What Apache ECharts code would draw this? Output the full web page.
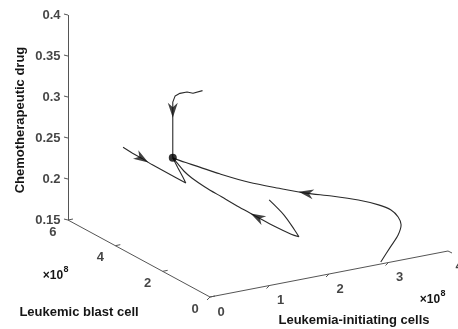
<!DOCTYPE html>
<html>
<head>
<meta charset="utf-8">
<script src="https://cdn.jsdelivr.net/npm/echarts@6/dist/echarts.min.js"></script>
<style>
html,body{margin:0;padding:0;background:#fff;}
#chartDiv{width:458px;height:329px;}
</style>
</head>
<body>
<div id="chartDiv"></div>
<script>
// points are [initiating cells (x1e8), blast cells (x1e8), drug]
var curveA = [[0.67,2,0.361],[0.51,2,0.360],[0.41,2,0.363],[0.29,2,0.363],[0.21,2,0.361],[0.17,2,0.354],[0.17,2,0.344],[0.17,2,0.32],[0.17,2,0.30],[0.17,2,0.286]];
var curveB = [[0.17,4.1,0.266],[0.17,3.7,0.265],[0.17,3.3,0.265],[0.17,2.9,0.264],[0.17,2.4,0.264],[0.17,1.9,0.264],[0.17,1.45,0.264],[0.17,1.57,0.269],[0.17,1.78,0.277],[0.17,1.9,0.282],[0.17,2.0,0.286]];
var curveC = [[1.79,2,0.212],[2.04,2,0.190],[2.22,2,0.169],[2.29,2,0.160],[2.16,2,0.165],[1.87,2,0.179],[1.59,2,0.194],[1.29,2,0.210],[0.99,2,0.227],[0.71,2,0.243],[0.49,2,0.257],[0.36,2,0.267],[0.26,2,0.277],[0.17,2,0.286]];
var curveD = [[2.87,0,0.1525],[3.15,0.3,0.162],[3.40,0.6,0.1685],[3.53,0.8,0.176],[3.56,1.0,0.182],[3.50,1.15,0.189],[3.35,1.3,0.195],[3.07,1.45,0.2025],[2.68,1.6,0.2105],[2.29,1.7,0.218],[1.88,1.8,0.228],[1.40,1.87,0.241],[0.93,1.93,0.257],[0.61,1.97,0.269],[0.37,1.99,0.278],[0.17,2.0,0.286]];
var equilibrium = [0.17,2.0,0.286];
// [curve number, point index] where an arrow head sits
var arrowAt = [[0,6],[1,2],[2,6],[3,9]];

var zTicks = [0.15,0.2,0.25,0.3,0.35,0.4];
var zTickLabels = ['0.15','0.2','0.25','0.3','0.35','0.4'];
var blastTicks = [0,2,4,6];
var initTicks = [0,1,2,3,4];

// view of the 3d box, flattened on the page
function project(p){
	return [59.5*p[0] - 23.67*p[1], 11.5*p[0] + 12.83*p[1] + 820*(p[2]-0.15)];
}

var curves = [curveA, curveB, curveC, curveD];
var txt = {fontFamily:'Liberation Sans, Arial, sans-serif', fontWeight:'bold', fontSize:13, color:'#151515'};
var font = 'bold 13px Liberation Sans';

var axisSegs = [];
axisSegs.push({coords:[project([0,6,0.15]), project([0,6,0.4])]});
axisSegs.push({coords:[project([0,6,0.15]), project([0,0,0.15])]});
axisSegs.push({coords:[project([0,0,0.15]), project([4,0,0.15])]});
zTicks.forEach(function(t){
	var a = project([0,6,t]);
	axisSegs.push({coords:[a,[a[0]-4,a[1]+1]]});
});
blastTicks.forEach(function(t){
	var a = project([0,t,0.15]);
	axisSegs.push({coords:[a,[a[0]+5,a[1]+1]]});
});
initTicks.forEach(function(t){
	var a = project([t,0,0.15]);
	var d = t == 4 ? [4,-2] : [-3,-3];
	axisSegs.push({coords:[a,[a[0]+d[0],a[1]+d[1]]]});
});

var series = [{
	type:'lines',
	coordinateSystem:'cartesian2d',
	data:axisSegs,
	silent:true,
	lineStyle:{color:'#555', width:1, opacity:1}
}];

curves.forEach(function(c, i){
	series.push({
		type:'line',
		data:c.map(project),
		showSymbol:false,
		smooth: i >= 2 ? 0.3 : false,
		lineStyle:{color:'#2a2a2a', width:1.1},
		z:3
	});
});

var arrows = arrowAt.map(function(a){
	var c = curves[a[0]];
	var p = project(c[a[1]]), q = project(c[a[1]+1]);
	var ang = Math.atan2(q[1]-p[1], q[0]-p[0]) * 180 / Math.PI;
	return {value:p, symbolRotate: ang - 90};
});
series.push({
	type:'scatter',
	data:arrows,
	symbol:'path://M0,0 L6,17 L0,12 L-6,17 Z',
	symbolSize:[10,15],
	itemStyle:{color:'#111'},
	z:4
});
series.push({
	type:'scatter',
	data:[project(equilibrium)],
	symbol:'circle',
	symbolSize:8,
	itemStyle:{color:'#000'},
	z:5
});

var tickLabelData = [];
zTicks.forEach(function(t, i){
	tickLabelData.push({value:project([0,6,t]), label:{position:'left', distance:7, formatter:zTickLabels[i]}});
});
blastTicks.forEach(function(t){
	tickLabelData.push({value:project([0,t,0.15]), label:{position:'inside', offset:[-15,12], formatter:String(t)}});
});
initTicks.forEach(function(t){
	tickLabelData.push({value:project([t,0,0.15]), label:{position:'inside', offset:[11,15], formatter:String(t)}});
});
series.push({
	type:'scatter',
	data:tickLabelData,
	symbolSize:1,
	itemStyle:{color:'rgba(0,0,0,0)'},
	silent:true,
	label:Object.assign({show:true}, txt)
});

var chart = echarts.init(document.getElementById('chartDiv'));
var option = {
	animation:false,
	backgroundColor:'#fff',
	grid:{left:0, top:0, width:458, height:329},
	xAxis:{type:'value', min:-210, max:248, show:false},
	yAxis:{type:'value', min:-32, max:297, show:false},
	graphic:[
		{type:'text', x:20, y:120, rotation:Math.PI/2, style:{text:'Chemotherapeutic drug', align:'center', verticalAlign:'middle', fill:txt.color, font:font}},
		{type:'text', x:79, y:312, style:{text:'Leukemic blast cell', align:'center', verticalAlign:'middle', fill:txt.color, font:font}},
		{type:'text', x:354, y:320, style:{text:'Leukemia-initiating cells', align:'center', verticalAlign:'middle', fill:txt.color, font:font}},
		{type:'text', x:53, y:276, style:{text:'\u00d710', align:'center', verticalAlign:'middle', fill:txt.color, font:'bold 12px Liberation Sans'}},
		{type:'text', x:66, y:270, style:{text:'8', align:'center', verticalAlign:'middle', fill:txt.color, font:'bold 9px Liberation Sans'}},
		{type:'text', x:430, y:300, style:{text:'\u00d710', align:'center', verticalAlign:'middle', fill:txt.color, font:'bold 12px Liberation Sans'}},
		{type:'text', x:443, y:294, style:{text:'8', align:'center', verticalAlign:'middle', fill:txt.color, font:'bold 9px Liberation Sans'}}
	],
	series:series
};
chart.setOption(option);
</script>
</body>
</html>
